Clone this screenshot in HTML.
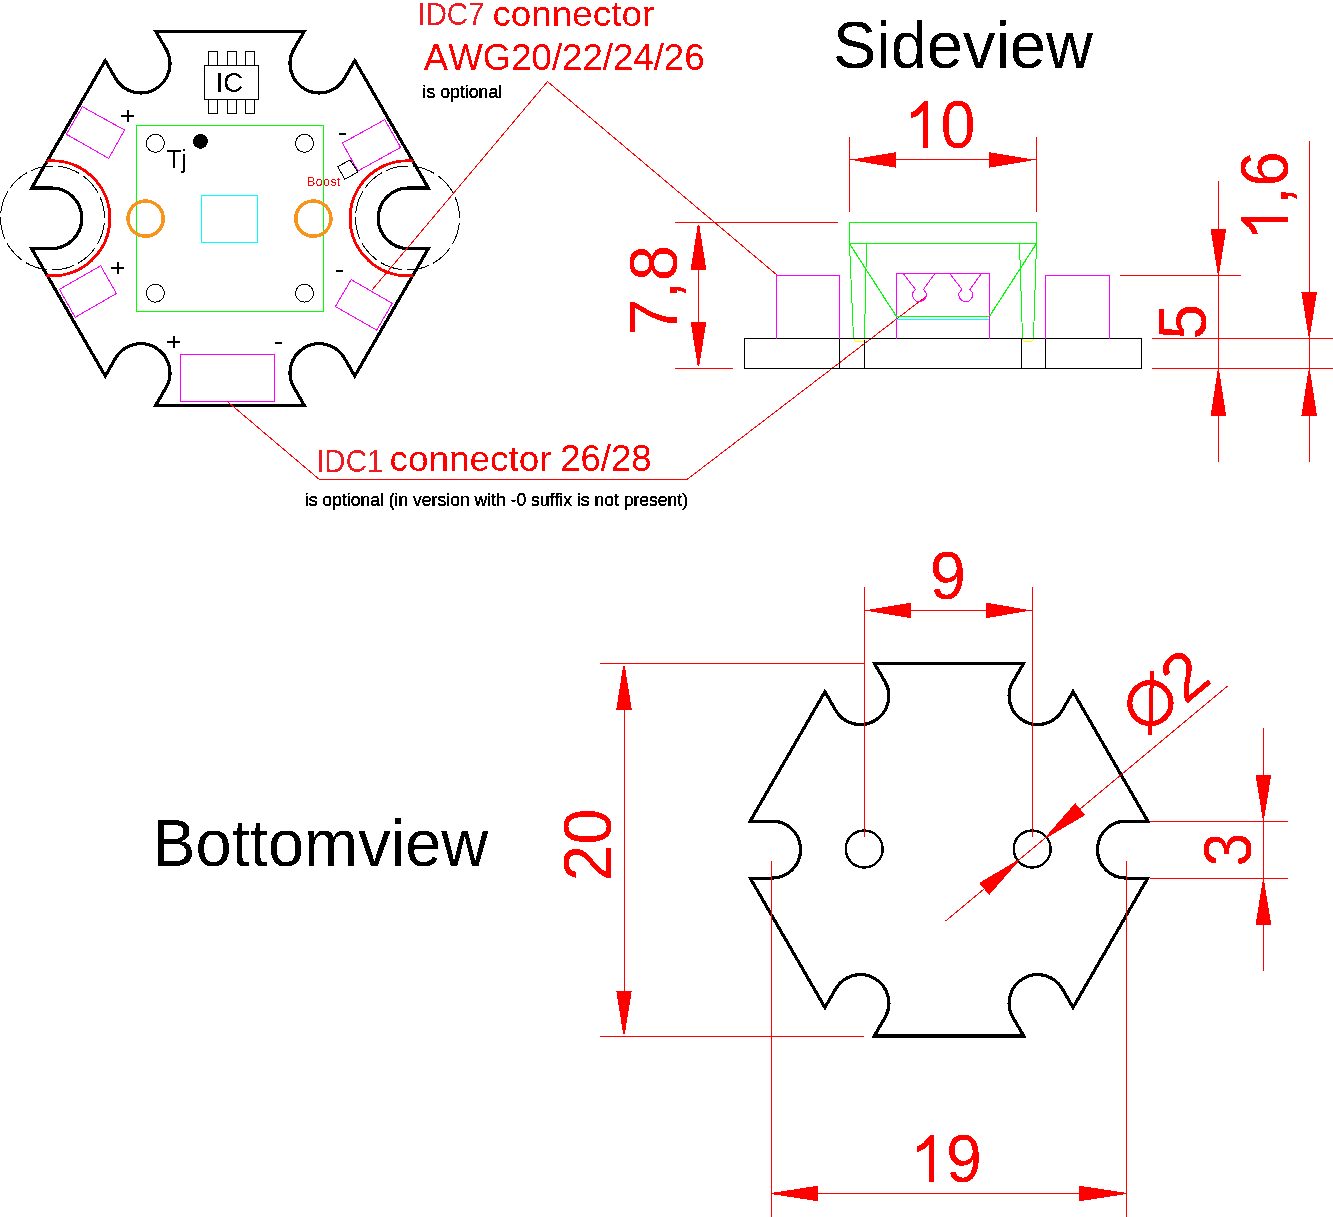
<!DOCTYPE html>
<html><head><meta charset="utf-8"><style>
html,body{margin:0;padding:0;background:#fff;}
svg{display:block;}
text{font-family:"Liberation Sans",sans-serif;font-kerning:none;}
</style></head><body>
<svg width="1333" height="1217" viewBox="0 0 1333 1217" shape-rendering="crispEdges">
<rect width="1333" height="1217" fill="#fff"/>
<filter id="al" x="0" y="0" width="1333" height="1217" filterUnits="userSpaceOnUse"><feComponentTransfer><feFuncA type="discrete" tableValues="0 1"/></feComponentTransfer></filter>
<filter id="al2" x="0" y="0" width="1333" height="1217" filterUnits="userSpaceOnUse"><feComponentTransfer><feFuncA type="discrete" tableValues="0 1 1 1"/></feComponentTransfer></filter>
<g filter="url(#al)">
<path d="M31.68,248.60 L51.50,248.60 A30.30,30.30 0 0 0 51.50,188.00 L31.68,188.00 L105.23,60.60 L115.46,78.31 A29.20,29.20 0 0 0 166.04,49.11 L155.81,31.40 L304.19,31.40 L293.96,49.11 A29.20,29.20 0 0 0 344.54,78.31 L354.77,60.60 L428.32,188.00 L408.50,188.00 A30.30,30.30 0 0 0 408.50,248.60 L428.32,248.60 L354.77,376.00 L344.54,358.29 A29.20,29.20 0 0 0 293.96,387.49 L304.19,405.20 L155.81,405.20 L166.04,387.49 A29.20,29.20 0 0 0 115.46,358.29 L105.23,376.00 Z" fill="none" stroke="#000" stroke-width="3.2" stroke-linejoin="miter"/>
<circle cx="52.5" cy="218" r="52" fill="none" stroke="#000" stroke-width="1" stroke-dasharray="22.53,4.7" stroke-dashoffset="22.16"/>
<circle cx="407.5" cy="218" r="52" fill="none" stroke="#000" stroke-width="1" stroke-dasharray="22.53,4.7" stroke-dashoffset="22.16"/>
<path d="M46.49,161.11 A57.5,57.5 0 1 1 46.49,275.49" fill="none" stroke="#ff0000" stroke-width="3"/>
<path d="M413.51,161.11 A57.5,57.5 0 1 0 413.51,275.49" fill="none" stroke="#ff0000" stroke-width="3"/>
<text x="306.82" y="185.70" font-size="12.40" fill="#ff0000" textLength="33.57" lengthAdjust="spacingAndGlyphs" >Boost</text>
<rect x="136.5" y="125.5" width="187" height="186" fill="none" stroke="#00ff00" stroke-width="1"/>
<circle cx="155.4" cy="143.3" r="9" fill="none" stroke="#000" stroke-width="1"/>
<circle cx="304.5" cy="143.3" r="9" fill="none" stroke="#000" stroke-width="1"/>
<circle cx="155.4" cy="293.2" r="9" fill="none" stroke="#000" stroke-width="1"/>
<circle cx="304.5" cy="293.2" r="9" fill="none" stroke="#000" stroke-width="1"/>
<circle cx="200.5" cy="141.4" r="7.4" fill="#000"/>
<circle cx="145.6" cy="218.6" r="17.6" fill="none" stroke="#f7941d" stroke-width="3.4"/>
<circle cx="313.4" cy="218.6" r="17.6" fill="none" stroke="#f7941d" stroke-width="3.4"/>
<rect x="201.5" y="195.5" width="56" height="47" fill="none" stroke="#00ffff" stroke-width="1"/>
<rect x="204.5" y="65.5" width="54" height="34" fill="none" stroke="#000" stroke-width="1"/>
<rect x="208.5" y="51.5" width="9" height="14" fill="none" stroke="#000" stroke-width="1"/>
<rect x="208.5" y="99.5" width="9" height="14" fill="none" stroke="#000" stroke-width="1"/>
<rect x="227.5" y="51.5" width="9" height="14" fill="none" stroke="#000" stroke-width="1"/>
<rect x="227.5" y="99.5" width="9" height="14" fill="none" stroke="#000" stroke-width="1"/>
<rect x="245.5" y="51.5" width="9" height="14" fill="none" stroke="#000" stroke-width="1"/>
<rect x="245.5" y="99.5" width="9" height="14" fill="none" stroke="#000" stroke-width="1"/>
<text x="215.66" y="91.90" font-size="27.20" fill="#000" textLength="27.48" lengthAdjust="spacingAndGlyphs" >IC</text>
<text x="166.67" y="168.10" font-size="25.00" fill="#000" textLength="19.84" lengthAdjust="spacingAndGlyphs" >Tj</text>
<polygon points="82.3,106.7 124.5,130 108.7,158.4 66.4,134.3" fill="none" stroke="#ff00ff" stroke-width="1"/>
<polygon points="59.4,289.3 100.7,265.8 116.4,293.5 75.2,317.3" fill="none" stroke="#ff00ff" stroke-width="1"/>
<polygon points="342.4,143.1 384.7,119.7 400.6,147.4 357.9,171" fill="none" stroke="#ff00ff" stroke-width="1"/>
<polygon points="351.2,279.6 392.3,303.4 376.7,330.1 335.4,306.5" fill="none" stroke="#ff00ff" stroke-width="1"/>
<rect x="180.5" y="354.5" width="94" height="47" fill="none" stroke="#ff00ff" stroke-width="1"/>
<polygon points="337.8,166.6 350.1,160 357.9,172 344.7,179.3" fill="none" stroke="#000" stroke-width="1"/>
<line x1="121.2" y1="116" x2="134.2" y2="116" stroke="#000" stroke-width="2"/><line x1="127.7" y1="110.0" x2="127.7" y2="122.0" stroke="#000" stroke-width="2"/>
<line x1="111.0" y1="268" x2="124.0" y2="268" stroke="#000" stroke-width="2"/><line x1="117.5" y1="262.0" x2="117.5" y2="274.0" stroke="#000" stroke-width="2"/>
<line x1="167.3" y1="342.1" x2="180.3" y2="342.1" stroke="#000" stroke-width="2"/><line x1="173.8" y1="336.1" x2="173.8" y2="348.1" stroke="#000" stroke-width="2"/>
<line x1="339.1" y1="134" x2="346" y2="134" stroke="#000" stroke-width="2"/>
<line x1="336.2" y1="271" x2="343.1" y2="271" stroke="#000" stroke-width="2"/>
<line x1="275.1" y1="342.8" x2="282" y2="342.8" stroke="#000" stroke-width="2"/>
<text x="417.49" y="24.90" font-size="31.00" fill="#ec1c24" textLength="66.89" lengthAdjust="spacingAndGlyphs" >IDC7</text>
<text x="492.44" y="25.70" font-size="34.90" fill="#ff0000" textLength="161.78" lengthAdjust="spacingAndGlyphs" >connector</text>
<text x="423.83" y="69.90" font-size="37.60" fill="#ff0000" textLength="280.68" lengthAdjust="spacingAndGlyphs" >AWG20/22/24/26</text>
<text x="422.52" y="98.05" font-size="17.80" fill="#000" textLength="79.72" lengthAdjust="spacingAndGlyphs" filter="url(#al2)">is optional</text>
<text x="316.18" y="471.90" font-size="31.40" fill="#ec1c24" textLength="67.16" lengthAdjust="spacingAndGlyphs" >IDC1</text>
<text x="389.53" y="470.70" font-size="34.90" fill="#ff0000" textLength="162.08" lengthAdjust="spacingAndGlyphs" >connector</text>
<text x="560.16" y="470.90" font-size="37.70" fill="#ff0000" textLength="91.43" lengthAdjust="spacingAndGlyphs" >26/28</text>
<text x="304.83" y="505.70" font-size="17.80" fill="#000" textLength="383.26" lengthAdjust="spacingAndGlyphs" filter="url(#al2)">is optional (in version with -0 suffix is not present)</text>
<polyline points="371.6,290.5 547.5,81.6 776.5,274.6" fill="none" stroke="#ff0000" stroke-width="1"/>
<polyline points="227.2,401.4 319.4,479.5 687,479.5 927.4,295.4" fill="none" stroke="#ff0000" stroke-width="1"/>
<text x="833.05" y="67.90" font-size="66.50" fill="#000" textLength="259.79" lengthAdjust="spacingAndGlyphs" >Sideview</text>
<rect x="744.6" y="338.5" width="397" height="29.8" fill="none" stroke="#000" stroke-width="1.2"/>
<line x1="839.5" y1="338.5" x2="839.5" y2="368.3" stroke="#000" stroke-width="1.2"/>
<line x1="864.2" y1="338.5" x2="864.2" y2="368.3" stroke="#000" stroke-width="1.2"/>
<line x1="1021.4" y1="338.5" x2="1021.4" y2="368.3" stroke="#000" stroke-width="1.2"/>
<line x1="1045.4" y1="338.5" x2="1045.4" y2="368.3" stroke="#000" stroke-width="1.2"/>
<polyline points="776.4,338.5 776.4,275.4 839.4,275.4 839.4,338.5" fill="none" stroke="#ff00ff" stroke-width="1"/>
<polyline points="1045.4,338.5 1045.4,275.4 1109.6,275.4 1109.6,338.5" fill="none" stroke="#ff00ff" stroke-width="1"/>
<polyline points="896.4,338.5 896.4,273.4 989.4,273.4 989.4,338.5" fill="none" stroke="#ff00ff" stroke-width="1"/>
<path d="M903.3,273.6 L915.4,289.4 L912.5,293 A7,7 0 1,0 926.1,293 L923.5,289.4 L934.8,273.6" fill="none" stroke="#ff00ff" stroke-width="1"/>
<path d="M949.8,273.6 L961.9,289.4 L959.0,293 A7,7 0 1,0 972.6,293 L970.0,289.4 L981.3,273.6" fill="none" stroke="#ff00ff" stroke-width="1"/>
<rect x="849.5" y="222.3" width="186.8" height="21.4" fill="none" stroke="#00ff00" stroke-width="1.2"/>
<line x1="849.5" y1="243.7" x2="853.5" y2="338" stroke="#00ff00" stroke-width="1"/>
<line x1="866.5" y1="243.7" x2="864.5" y2="338" stroke="#00ff00" stroke-width="1"/>
<line x1="1036.5" y1="243.7" x2="1033.5" y2="338" stroke="#00ff00" stroke-width="1"/>
<line x1="1019.5" y1="243.7" x2="1022.5" y2="338" stroke="#00ff00" stroke-width="1"/>
<line x1="849.5" y1="243.7" x2="896.4" y2="316.4" stroke="#00ff00" stroke-width="1.2"/>
<line x1="1036.3" y1="243.7" x2="989.4" y2="316.4" stroke="#00ff00" stroke-width="1.2"/>
<line x1="896.4" y1="316.4" x2="989.4" y2="316.4" stroke="#00ff00" stroke-width="1.3"/>
<line x1="896.4" y1="319.4" x2="989.4" y2="319.4" stroke="#00ffff" stroke-width="1.3"/>
<path d="M853.9,338.8 A5.2,3 0 0,0 864.3,338.8" fill="none" stroke="#ffff00" stroke-width="1"/>
<path d="M1022.3,338.8 A5.5,3 0 0,0 1033.3,338.8" fill="none" stroke="#ffff00" stroke-width="1"/>
<line x1="849.5" y1="136.5" x2="849.5" y2="211.6" stroke="#ff0000" stroke-width="1"/>
<line x1="1036.4" y1="136.5" x2="1036.4" y2="211.6" stroke="#ff0000" stroke-width="1"/>
<line x1="849.5" y1="159.9" x2="1036.4" y2="159.9" stroke="#ff0000" stroke-width="1"/>
<path d="M855.00,160.70 L895.90,167.70 L895.90,152.10 L855.00,159.10 Z" fill="#ff0000"/>
<path d="M1030.60,159.10 L988.90,152.10 L988.90,167.70 L1030.60,160.70 Z" fill="#ff0000"/>
<g transform="translate(910.9,148.1)"><polygon points="13.50,-47.00 17.10,-47.00 17.10,0.00 12.00,0.00 12.00,-37.10 7.60,-33.20 3.90,-31.20 0.00,-30.10 0.00,-35.70 2.00,-36.60 5.90,-38.80 11.00,-44.50" fill="#ff0000" shape-rendering="auto"/><text x="29.64" y="0.00" font-size="67.80" fill="#ff0000" textLength="35.02" lengthAdjust="spacingAndGlyphs" >0</text></g>
<line x1="674.9" y1="222.6" x2="838" y2="222.6" stroke="#ff0000" stroke-width="1"/>
<line x1="674.9" y1="368.6" x2="732.9" y2="368.6" stroke="#ff0000" stroke-width="1"/>
<line x1="698.5" y1="225.1" x2="698.5" y2="365.8" stroke="#ff0000" stroke-width="1"/>
<path d="M697.70,225.10 L690.70,269.80 L706.30,269.80 L699.30,225.10 Z" fill="#ff0000"/>
<path d="M699.30,365.80 L706.30,322.00 L690.70,322.00 L697.70,365.80 Z" fill="#ff0000"/>
<g transform="translate(677,331.6) rotate(-90)"><text x="-3.31" y="0.00" font-size="67.80" fill="#ff0000" textLength="89.71" lengthAdjust="spacingAndGlyphs" >7,8</text></g>
<line x1="1120.3" y1="275.3" x2="1241.2" y2="275.3" stroke="#ff0000" stroke-width="1"/>
<line x1="1152.2" y1="338.6" x2="1333" y2="338.6" stroke="#ff0000" stroke-width="1"/>
<line x1="1152.2" y1="368" x2="1333" y2="368" stroke="#ff0000" stroke-width="1"/>
<line x1="1218.4" y1="181.1" x2="1218.4" y2="461.6" stroke="#ff0000" stroke-width="1"/>
<line x1="1309.2" y1="141" x2="1309.2" y2="461.6" stroke="#ff0000" stroke-width="1"/>
<path d="M1219.20,273.20 L1226.20,229.10 L1210.60,229.10 L1217.60,273.20 Z" fill="#ff0000"/>
<path d="M1217.60,370.50 L1210.60,416.00 L1226.20,416.00 L1219.20,370.50 Z" fill="#ff0000"/>
<path d="M1310.00,335.50 L1317.00,292.00 L1301.40,292.00 L1308.40,335.50 Z" fill="#ff0000"/>
<path d="M1308.40,370.50 L1301.40,416.00 L1317.00,416.00 L1310.00,370.50 Z" fill="#ff0000"/>
<g transform="translate(1206.3,337) rotate(-90)"><text x="-2.57" y="0.00" font-size="67.80" fill="#ff0000" textLength="35.66" lengthAdjust="spacingAndGlyphs" >5</text></g>
<g transform="translate(1287.9,233.7) rotate(-90)"><polygon points="13.40,-47.00 17.00,-47.00 17.00,0.00 11.90,0.00 11.90,-37.10 7.50,-33.20 3.80,-31.20 -0.10,-30.10 -0.10,-35.70 1.90,-36.60 5.80,-38.80 10.90,-44.50" fill="#ff0000" shape-rendering="auto"/><text x="29.14" y="0.00" font-size="67.80" fill="#ff0000" textLength="53.48" lengthAdjust="spacingAndGlyphs" >,6</text></g>
<path d="M750.22,878.10 L772.00,878.10 A28.50,28.50 0 0 0 772.00,821.10 L750.22,821.10 L824.93,691.70 L835.82,710.56 A28.50,28.50 0 0 0 885.18,682.06 L874.29,663.20 L1023.71,663.20 L1012.82,682.06 A28.50,28.50 0 0 0 1062.18,710.56 L1073.07,691.70 L1147.78,821.10 L1126.00,821.10 A28.50,28.50 0 0 0 1126.00,878.10 L1147.78,878.10 L1073.07,1007.50 L1062.18,988.64 A28.50,28.50 0 0 0 1012.82,1017.14 L1023.71,1036.00 L874.29,1036.00 L885.18,1017.14 A28.50,28.50 0 0 0 835.82,988.64 L824.93,1007.50 Z" fill="none" stroke="#000" stroke-width="3.2"/>
<circle cx="864.2" cy="849" r="18.5" fill="none" stroke="#000" stroke-width="2.4"/>
<circle cx="1032.2" cy="849" r="18.5" fill="none" stroke="#000" stroke-width="2.4"/>
<text x="152.27" y="865.60" font-size="66.50" fill="#000" textLength="335.97" lengthAdjust="spacingAndGlyphs" >Bottomview</text>
<line x1="864.3" y1="587.3" x2="864.3" y2="837.4" stroke="#ff0000" stroke-width="1"/>
<line x1="1032.4" y1="587.3" x2="1032.4" y2="837.4" stroke="#ff0000" stroke-width="1"/>
<line x1="864.3" y1="610.4" x2="1032.4" y2="610.4" stroke="#ff0000" stroke-width="1"/>
<path d="M869.50,611.20 L911.00,618.20 L911.00,602.60 L869.50,609.60 Z" fill="#ff0000"/>
<path d="M1026.50,609.60 L986.00,602.60 L986.00,618.20 L1026.50,611.20 Z" fill="#ff0000"/>
<g transform="translate(932.9,599.3)"><text x="-3.05" y="0.00" font-size="67.80" fill="#ff0000" textLength="36.24" lengthAdjust="spacingAndGlyphs" >9</text></g>
<line x1="600" y1="663.2" x2="864.3" y2="663.2" stroke="#ff0000" stroke-width="1"/>
<line x1="600" y1="1036.3" x2="863.8" y2="1036.3" stroke="#ff0000" stroke-width="1"/>
<line x1="624" y1="665.8" x2="624" y2="1034.2" stroke="#ff0000" stroke-width="1"/>
<path d="M623.20,665.80 L616.20,709.90 L631.80,709.90 L624.80,665.80 Z" fill="#ff0000"/>
<path d="M624.80,1034.20 L631.80,990.50 L616.20,990.50 L623.20,1034.20 Z" fill="#ff0000"/>
<g transform="translate(611,877.9) rotate(-90)"><text x="-3.29" y="0.00" font-size="67.80" fill="#ff0000" textLength="72.74" lengthAdjust="spacingAndGlyphs" >20</text></g>
<line x1="771.6" y1="860.8" x2="771.6" y2="1217" stroke="#ff0000" stroke-width="1"/>
<line x1="1126.6" y1="860.8" x2="1126.6" y2="1217" stroke="#ff0000" stroke-width="1"/>
<line x1="771.6" y1="1193.5" x2="1126.6" y2="1193.5" stroke="#ff0000" stroke-width="1"/>
<path d="M773.00,1194.30 L818.20,1201.30 L818.20,1185.70 L773.00,1192.70 Z" fill="#ff0000"/>
<path d="M1124.80,1192.70 L1079.20,1185.70 L1079.20,1201.30 L1124.80,1194.30 Z" fill="#ff0000"/>
<g transform="translate(916.9,1182)"><polygon points="13.60,-47.00 17.20,-47.00 17.20,0.00 12.10,0.00 12.10,-37.10 7.70,-33.20 4.00,-31.20 0.10,-30.10 0.10,-35.70 2.10,-36.60 6.00,-38.80 11.10,-44.50" fill="#ff0000" shape-rendering="auto"/><text x="29.18" y="0.00" font-size="67.80" fill="#ff0000" textLength="35.88" lengthAdjust="spacingAndGlyphs" >9</text></g>
<line x1="1150.4" y1="821.1" x2="1287.6" y2="821.1" stroke="#ff0000" stroke-width="1"/>
<line x1="1150.4" y1="878.1" x2="1287.6" y2="878.1" stroke="#ff0000" stroke-width="1"/>
<line x1="1263.4" y1="728.3" x2="1263.4" y2="971.2" stroke="#ff0000" stroke-width="1"/>
<path d="M1264.20,818.30 L1271.20,775.10 L1255.60,775.10 L1262.60,818.30 Z" fill="#ff0000"/>
<path d="M1262.60,881.50 L1255.60,924.60 L1271.20,924.60 L1264.20,881.50 Z" fill="#ff0000"/>
<g transform="translate(1251.3,864.3) rotate(-90)"><text x="-2.31" y="0.00" font-size="67.80" fill="#ff0000" textLength="33.78" lengthAdjust="spacingAndGlyphs" >3</text></g>
<line x1="945.7" y1="921" x2="1227.7" y2="686" stroke="#ff0000" stroke-width="1"/>
<path d="M1017.48,860.23 L979.19,883.02 L989.18,895.00 L1018.50,861.46 Z" fill="#ff0000"/>
<path d="M1046.92,837.77 L1085.21,814.98 L1075.22,803.00 L1045.90,836.54 Z" fill="#ff0000"/>
<circle cx="1150.4" cy="703.1" r="20.6" fill="none" stroke="#ff0000" stroke-width="5.2"/>
<line x1="1152" y1="671" x2="1150.2" y2="734.6" stroke="#ff0000" stroke-width="4"/>
<text transform="translate(1185,705.6) rotate(-40)" font-size="67.8" fill="#ff0000">2</text>
</g>
</svg></body></html>
